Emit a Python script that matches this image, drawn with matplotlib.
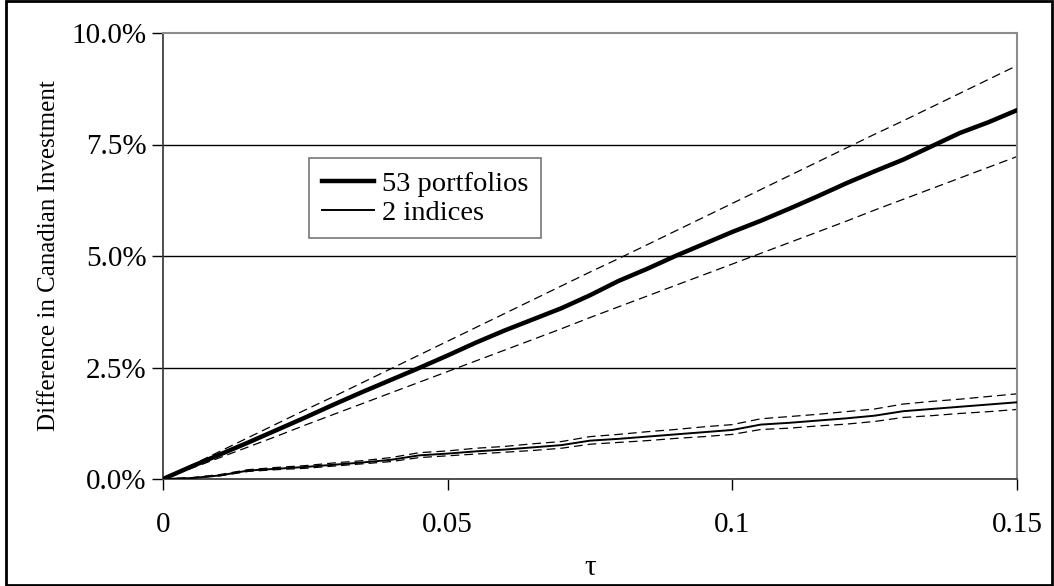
import numpy as np
import matplotlib.pyplot as plt
from matplotlib.patches import Rectangle
from matplotlib.ticker import FuncFormatter

plt.rcParams['font.family'] = 'serif'
plt.rcParams['font.serif'] = ['Liberation Serif', 'DejaVu Serif']

# tau grid (step 0.005)
tau = [0.000, 0.005, 0.010, 0.015, 0.020, 0.025, 0.030, 0.035, 0.040, 0.045,
       0.050, 0.055, 0.060, 0.065, 0.070, 0.075, 0.080, 0.085, 0.090, 0.095,
       0.100, 0.105, 0.110, 0.115, 0.120, 0.125, 0.130, 0.135, 0.140, 0.145,
       0.150]

# 53 portfolios: estimate and bands (in %)
port_mid = [0.00, 0.28, 0.55, 0.82, 1.10, 1.38, 1.67, 1.95, 2.22, 2.49,
            2.77, 3.06, 3.33, 3.58, 3.83, 4.12, 4.44, 4.71, 5.00, 5.27,
            5.54, 5.79, 6.06, 6.34, 6.63, 6.90, 7.16, 7.46, 7.76, 8.00,
            8.27]
port_hi = [0.00, 0.31, 0.62, 0.93, 1.24, 1.55, 1.85, 2.16, 2.47, 2.78,
           3.09, 3.40, 3.71, 4.02, 4.33, 4.64, 4.94, 5.25, 5.56, 5.87,
           6.18, 6.49, 6.80, 7.11, 7.42, 7.73, 8.03, 8.34, 8.65, 8.96,
           9.27]
port_lo = [0.00, 0.24, 0.48, 0.72, 0.96, 1.21, 1.45, 1.69, 1.93, 2.17,
           2.41, 2.65, 2.89, 3.13, 3.37, 3.62, 3.86, 4.10, 4.34, 4.58,
           4.82, 5.06, 5.30, 5.54, 5.78, 6.03, 6.27, 6.51, 6.75, 6.99,
           7.23]

# 2 indices: estimate and bands (in %)
idx_mid = [0.00, 0.02, 0.08, 0.19, 0.23, 0.27, 0.32, 0.37, 0.43, 0.53,
           0.57, 0.62, 0.66, 0.71, 0.76, 0.86, 0.90, 0.95, 1.00, 1.05,
           1.10, 1.22, 1.26, 1.31, 1.36, 1.42, 1.52, 1.57, 1.62, 1.67,
           1.72]
idx_hi = [0.00, 0.03, 0.10, 0.21, 0.26, 0.30, 0.36, 0.41, 0.48, 0.59,
          0.63, 0.69, 0.73, 0.79, 0.84, 0.95, 1.00, 1.06, 1.11, 1.17,
          1.22, 1.35, 1.40, 1.45, 1.51, 1.57, 1.68, 1.74, 1.79, 1.85,
          1.91]
idx_lo = [0.00, 0.02, 0.07, 0.17, 0.21, 0.24, 0.29, 0.34, 0.39, 0.48,
          0.52, 0.56, 0.60, 0.64, 0.69, 0.78, 0.82, 0.86, 0.91, 0.95,
          1.00, 1.11, 1.14, 1.19, 1.23, 1.29, 1.38, 1.42, 1.47, 1.51,
          1.56]

x_ticks = [0, 0.05, 0.1, 0.15]
x_tick_labels = ['0', '0.05', '0.1', '0.15']
y_ticks = [0, 2.5, 5.0, 7.5, 10.0]

W, H = 1054, 586
fig = plt.figure(figsize=(W / 100, H / 100), dpi=100)
ax = fig.add_axes([163 / W, 1 - 479 / H, (1017 - 163) / W, (479 - 33) / H])

# horizontal grid
for yv in y_ticks[1:-1]:
    ax.axhline(yv, color='black', lw=1.0, zorder=1)

dash = (0, (7, 4))
ax.plot(tau, port_hi, color='black', lw=0.9, ls=dash, zorder=2)
ax.plot(tau, port_lo, color='black', lw=0.9, ls=dash, zorder=2)
ax.plot(tau, idx_hi, color='black', lw=0.9, ls=dash, zorder=2)
ax.plot(tau, idx_lo, color='black', lw=0.9, ls=dash, zorder=2)
ax.plot(tau, port_mid, color='black', lw=3.2, label='53 portfolios', zorder=3)
ax.plot(tau, idx_mid, color='black', lw=1.4, label='2 indices', zorder=3)

ax.set_xlim(0, 0.15)
ax.set_ylim(0, 10)
ax.set_xticks(x_ticks)
ax.set_xticklabels(x_tick_labels)
ax.set_yticks(y_ticks)
ax.yaxis.set_major_formatter(FuncFormatter(lambda v, p: f'{v:.1f}%'))
ax.tick_params(axis='both', direction='out', length=8, width=1,
               labelsize=21, color='black')
ax.tick_params(axis='x', pad=16)
ax.tick_params(axis='y', pad=4)

for side in ['left', 'bottom']:
    ax.spines[side].set_color('#404040')
    ax.spines[side].set_linewidth(1.3)
for side in ['top', 'right']:
    ax.spines[side].set_color('#8c8c8c')
    ax.spines[side].set_linewidth(1.5)

ax.set_xlabel('τ', fontsize=21, labelpad=12)
ax.set_ylabel('Difference in Canadian Investment', fontsize=18, labelpad=8)

leg = ax.legend(loc='upper left', bbox_to_anchor=((309 - 163) / 854, (479 - 158) / 446),
                fontsize=20.5, frameon=True, fancybox=False, handlelength=1.85,
                handletextpad=0.25, borderpad=0.45, labelspacing=0.1,
                borderaxespad=0)
leg.get_frame().set_edgecolor('#555555')
leg.get_frame().set_linewidth(1.2)

# outer chart border
fig.patches.append(Rectangle((6 / W, 1 / H), (1052 - 6) / W, (585 - 1) / H,
                             transform=fig.transFigure, fill=False,
                             edgecolor='black', lw=2))

fig.savefig('out.png', dpi=100)
